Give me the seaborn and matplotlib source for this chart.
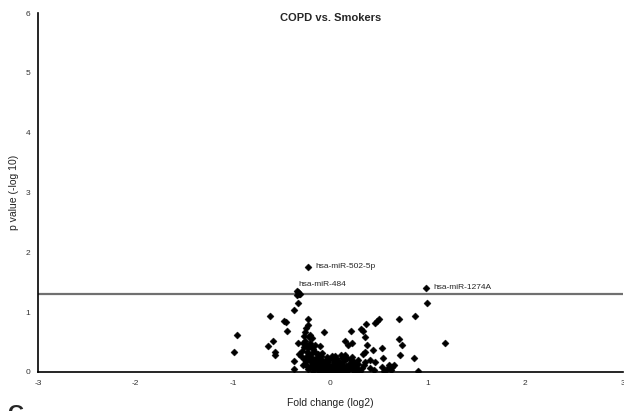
import matplotlib
matplotlib.use("Agg")
import matplotlib.pyplot as plt
import seaborn as sns
import pandas as pd

fold_change = [
    -0.235, 0.985, -0.34, -0.33, -0.31, -0.34, -0.32,
    0.99, -0.33, -0.37, -0.62, -0.48, -0.46, -0.23, -0.235, -0.25, -0.45, -0.26, -0.21, -0.063,
    -0.96, -0.99, -0.59, -0.64, -0.57, -0.57, -0.27, -0.33, -0.28, -0.26, -0.21, -0.16, -0.11,
    -0.19, -0.22, -0.32, -0.30, -0.37, -0.37,
    0.87, 0.70, 0.50, 0.48, 0.46, 0.37, 0.21, 0.31, 0.33, 0.36, 0.15, 0.18, 0.22, 0.70, 0.73,
    0.38, 0.35, 0.33, 0.44, 0.53, 0.71, 0.86, 0.90, 1.18, -0.09, -0.04, 0.05, 0.06, 0.15, 0.17,
    0.41, 0.46, 0.54, 0.36, 0.53, 0.60, 0.63, 0.58, 0.41, 0.32, 0.45, 0.65, 0.62, 0.55,
    -0.27, -0.25, -0.23, -0.20, -0.18, -0.24, -0.22, -0.19, -0.16, -0.13, -0.27, -0.25, -0.22,
    -0.20, -0.17, -0.15, -0.14, -0.12, -0.28, -0.24, -0.21, -0.19, -0.17, -0.15, -0.13, -0.11,
    -0.10, -0.08, -0.07, -0.06, -0.05, -0.04, -0.03, -0.02, -0.01, 0.00, 0.01, 0.02, 0.03, 0.04,
    0.05, 0.06, 0.07, 0.08, 0.09, 0.10, 0.11, 0.12, 0.13, 0.14, 0.15, 0.16, 0.18, 0.19, 0.20,
    0.21, 0.22, 0.23, 0.24, 0.26, 0.27, 0.28, 0.30, -0.09, -0.06, -0.18, -0.23, -0.12, -0.14,
    0.00, -0.02, 0.03, 0.08, 0.12, 0.10, 0.05, -0.08, 0.16, -0.03, 0.06, 0.25, 0.34, 0.28, 0.22,
    -0.20, -0.10, -0.24, -0.29, -0.26, 0.02, -0.01, 0.11, 0.18, -0.11, -0.16, 0.14, -0.04, 0.07,
]
neg_log_p = [
    1.76, 1.41, 1.35, 1.33, 1.31, 1.28, 1.30,
    1.15, 1.16, 1.04, 0.94, 0.86, 0.84, 0.89, 0.79, 0.74, 0.69, 0.66, 0.62, 0.66,
    0.61, 0.34, 0.52, 0.43, 0.34, 0.28, 0.60, 0.49, 0.49, 0.52, 0.49, 0.45, 0.43,
    0.57, 0.59, 0.30, 0.26, 0.18, 0.05,
    0.94, 0.89, 0.88, 0.86, 0.82, 0.81, 0.69, 0.72, 0.69, 0.58, 0.51, 0.45, 0.48, 0.55, 0.45,
    0.45, 0.34, 0.30, 0.36, 0.40, 0.28, 0.23, 0.02, 0.48, 0.31, 0.25, 0.27, 0.23, 0.28, 0.24,
    0.20, 0.16, 0.23, 0.17, 0.09, 0.12, 0.09, 0.05, 0.06, 0.06, 0.03, 0.11, 0.04, 0.02,
    0.42, 0.45, 0.40, 0.44, 0.38, 0.33, 0.30, 0.31, 0.33, 0.30, 0.22, 0.18, 0.22,
    0.16, 0.20, 0.24, 0.17, 0.21, 0.12, 0.10, 0.08, 0.12, 0.06, 0.10, 0.05, 0.13,
    0.08, 0.15, 0.04, 0.10, 0.02, 0.07, 0.12, 0.03, 0.06, 0.01, 0.09, 0.04, 0.14, 0.02,
    0.07, 0.11, 0.03, 0.05, 0.17, 0.02, 0.08, 0.12, 0.04, 0.18, 0.06, 0.10, 0.03, 0.14, 0.07,
    0.20, 0.11, 0.04, 0.16, 0.09, 0.05, 0.13, 0.02, 0.20, 0.18, 0.02, 0.05, 0.01, 0.12,
    0.09, 0.16, 0.20, 0.13, 0.24, 0.15, 0.16, 0.03, 0.02, 0.01, 0.01, 0.01, 0.12, 0.20, 0.25,
    0.25, 0.27, 0.27, 0.35, 0.14, 0.26, 0.21, 0.28, 0.09, 0.04, 0.14, 0.01, 0.14, 0.19,
]

label_names = ["hsa-miR-502-5p", "hsa-miR-484", "hsa-miR-1274A"]
label_x = [-0.235, -0.31, 0.985]
label_y = [1.76, 1.35, 1.41]

threshold = 1.3
x_ticks = [-3, -2, -1, 0, 1, 2, 3]
y_ticks = [0, 1, 2, 3, 4, 5, 6]

sns.set_style("white")
plt.rcParams['font.family'] = ['Liberation Sans Narrow', 'Liberation Sans', 'DejaVu Sans']
plt.rcParams['axes.unicode_minus'] = False

df = pd.DataFrame({"fc": fold_change, "p": neg_log_p})

fig = plt.figure(figsize=(6.24, 4.11), dpi=100)
ax = fig.add_axes([0.061, 0.095, 0.937, 0.873])

ax.axhline(threshold, color="#707070", lw=1.6, zorder=1)
sns.scatterplot(data=df, x="fc", y="p", marker="D", s=13, color="black",
                edgecolor="black", linewidth=0.3, ax=ax, zorder=3)

ax.set_xlim(-3, 3)
ax.set_ylim(0, 6)
ax.set_xticks(x_ticks)
ax.set_yticks(y_ticks)
ax.tick_params(axis="both", labelsize=6, labelcolor="#333333", direction="inout",
               length=4, width=0.8, color="black")
for s in ["top", "right"]:
    ax.spines[s].set_visible(False)
for s in ["left", "bottom"]:
    ax.spines[s].set_color("black")
    ax.spines[s].set_linewidth(1.2)

ax.set_xlabel("Fold change (log2)", fontsize=7.5, color="#222222", labelpad=8)
ax.set_ylabel("p value (-log 10)", fontsize=7.5, color="#222222", labelpad=5)
ax.set_title("COPD vs. Smokers", fontsize=8, fontweight="bold", pad=-6, y=1.0)

ax.text(label_x[0] + 0.08, label_y[0], label_names[0], fontsize=6, va="center", ha="left")
ax.text(label_x[1] - 0.02, label_y[1] + 0.05, label_names[1], fontsize=6, va="bottom", ha="left")
ax.text(label_x[2] + 0.07, label_y[2], label_names[2], fontsize=6, va="center", ha="left")

fig.text(0.012, -0.035, "C", fontsize=16, fontweight="bold", va="bottom", ha="left")

fig.savefig("out.png", dpi=100)
